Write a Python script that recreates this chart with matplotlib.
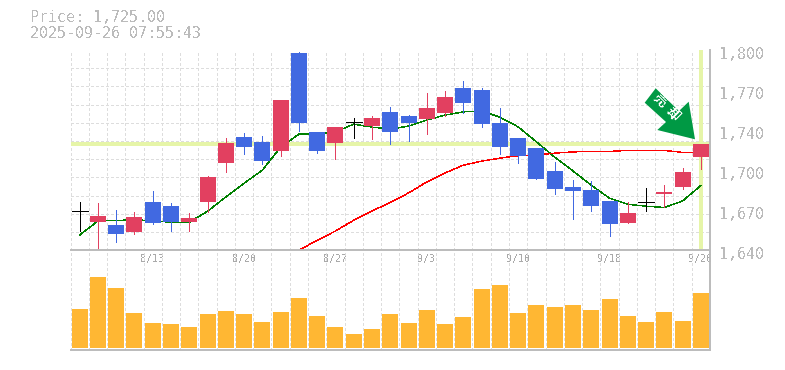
#!/usr/bin/env python3
"""Daily candles with two moving averages, current price marker and volume."""

import matplotlib
matplotlib.use('Agg')
import matplotlib.pyplot as plt
import numpy as np
from matplotlib.patches import Polygon, Rectangle
from matplotlib.transforms import ScaledTranslation

# ---------------------------------------------------------------------
# DATA
# ---------------------------------------------------------------------
opens = [1671.2, 1662.4, 1660.0, 1654.4, 1678.4, 1675.2, 1662.4, 1678.4, 1709.6, 1730.4,
         1726.4, 1719.2, 1797.6, 1734.4, 1725.6, 1742.4, 1739.2, 1750.4, 1747.2, 1744.8,
         1749.6, 1769.6, 1768.0, 1741.6, 1729.6, 1721.6, 1703.2, 1690.4, 1688.0, 1679.2,
         1661.6, 1678.4, 1684.8, 1690.4, 1714.4]
closes = [1671.2, 1667.2, 1652.8, 1666.4, 1661.6, 1662.4, 1665.6, 1698.4, 1725.6, 1722.4,
          1711.2, 1760.0, 1741.6, 1719.2, 1738.4, 1742.4, 1745.6, 1734.4, 1741.6, 1753.6,
          1762.4, 1757.6, 1740.8, 1722.4, 1715.2, 1696.8, 1688.8, 1687.2, 1675.2, 1660.8,
          1669.6, 1678.4, 1686.4, 1702.4, 1725.0]
highs = [1678.4, 1677.6, 1672.0, 1670.4, 1687.2, 1677.6, 1669.6, 1699.2, 1729.6, 1733.6,
         1731.2, 1760.0, 1798.4, 1734.4, 1738.4, 1745.6, 1747.2, 1754.4, 1748.0, 1765.6,
         1767.2, 1775.2, 1769.6, 1753.6, 1729.6, 1721.6, 1710.4, 1696.0, 1695.2, 1679.2,
         1678.4, 1689.6, 1692.0, 1705.6, 1725.0]
lows = [1655.2, 1640.0, 1646.4, 1652.8, 1660.8, 1655.2, 1655.2, 1670.4, 1702.4, 1716.8,
        1708.8, 1715.2, 1735.2, 1717.6, 1712.8, 1729.6, 1728.8, 1724.8, 1727.2, 1732.8,
        1747.2, 1749.6, 1738.4, 1716.8, 1709.6, 1696.8, 1684.8, 1664.8, 1671.2, 1651.2,
        1661.6, 1671.2, 1674.4, 1688.8, 1704.8]
volumes = [39, 71, 60, 35, 25, 24, 21, 34, 37, 34, 26, 36, 50, 32, 21, 14, 19, 34,
           25, 38, 24, 31, 59, 63, 35, 43, 41, 43, 38, 49, 32, 26, 36, 27, 55]
ma_short = [1652.2, 1663.4, 1663.8, 1664.4, 1663.6, 1662.4, 1662.4, 1671.2, 1682.6, 1693.6,
            1704.0, 1722.4, 1732.8, 1732.8, 1734.6, 1740.8, 1738.4, 1736.8, 1739.2, 1744.0,
            1748.0, 1750.6, 1751.2, 1746.4, 1738.6, 1726.6, 1714.4, 1703.4, 1692.0, 1681.6,
            1676.8, 1675.2, 1674.2, 1679.4, 1691.8]
ma_long_start = 12
ma_long = [1640.0, 1648.0, 1655.4, 1664.0, 1671.4, 1678.2, 1685.8, 1694.6, 1701.8, 1708.0,
           1711.2, 1713.6, 1715.6, 1716.2, 1717.6, 1718.6, 1719.0, 1719.0, 1719.8, 1719.8,
           1719.8, 1718.2, 1718.2]

PRICE = 1725.0
STAMP = '2025-09-26 07:55:43'
date_pos = [4, 9, 14, 19, 24, 29, 34]
date_labels = ['8/13', '8/20', '8/27', '9/3', '9/10', '9/18', '9/26']
price_ticks = [1640, 1672, 1704, 1736, 1768, 1800]
price_labels = ['1,640', '1,670', '1,700', '1,740', '1,770', '1,800']

# ---------------------------------------------------------------------
# STYLE
# ---------------------------------------------------------------------
W, H = 785, 370
UP = '#E24060'
DOWN = '#4169E1'
TEXT = '#BBBBBB'
GRID = '#DDDDDD'
AXIS = '#BBBBBB'
MARK = '#E6F5A8'
ARROW = '#009944'
MONO = 'DejaVu Sans Mono'
THIN = 0.5
CURVE = 0.3

plt.rcParams['text.antialiased'] = False
plt.rcParams['font.family'] = [MONO, 'DejaVu Sans']


def px_axes(fig, left, top, right, bottom):
    return fig.add_axes([left / W, 1 - bottom / H, (right - left) / W, (bottom - top) / H])


def px_fig(x, y):
    return x / W, 1 - y / H


def style_axes(ax):
    ax.set_xlim(-0.5, len(opens) - 0.5)
    ax.set_xticks(np.arange(len(opens) + 1) - 0.5, minor=True)
    ax.grid(True, which='minor', color=GRID, linestyle=(0, (4.3, 2.9)), linewidth=THIN, antialiased=False)
    ax.set_axisbelow(True)
    ax.tick_params(which='both', length=0)
    for side in ('top', 'left'):
        ax.spines[side].set_visible(False)
    for side in ('bottom', 'right'):
        ax.spines[side].set_color(AXIS)
        ax.spines[side].set_linewidth(1.4)
        ax.spines[side].set_zorder(6)


def draw_candles(ax):
    width = 0.875
    for i, (o, c, hi, lo) in enumerate(zip(opens, closes, highs, lows)):
        if o == c:
            color = 'black'
        elif c > o:
            color = UP
        else:
            color = DOWN
        ax.vlines(i, lo, hi, color=color, linewidth=THIN, zorder=4, antialiased=False)
        if o == c:
            ax.hlines(o, i - width / 2, i + width / 2, color=color, linewidth=THIN, zorder=4, antialiased=False)
        else:
            ax.add_patch(Rectangle((i - width / 2, min(o, c)), width, abs(c - o), facecolor=color,
                                   edgecolor='none', linewidth=0, zorder=4, antialiased=False))


def draw_arrow(fig, ax):
    shape = [(655.7, 88.3), (644.7, 102.7), (666.0, 122.0), (657.3, 130.0),
             (695.0, 139.3), (688.7, 101.7), (679.0, 111.0)]
    ax.add_patch(Polygon([px_fig(x, y) for x, y in shape], closed=True, facecolor=ARROW, edgecolor='none',
                         transform=fig.transFigure, zorder=7, clip_on=False))
    for ch, (x, y) in zip('売却', [(660.3, 100.5), (672.5, 114.0)]):
        fx, fy = px_fig(x, y)
        fig.text(fx, fy, ch, color='white', fontsize=9.5, fontweight='bold', rotation=-45,
                 rotation_mode='anchor', ha='center', va='center', family=['Noto Sans CJK JP', 'DejaVu Sans'],
                 zorder=8)


def main() -> None:
    fig = plt.figure(figsize=(W / 100, H / 100), dpi=100, facecolor='white')
    ax = px_axes(fig, 70.5, 50, 710, 250.3)
    vol = px_axes(fig, 70.5, 250.3, 710, 350)
    vol.patch.set_alpha(0)
    ax.set_zorder(1)
    vol.set_zorder(2)

    # price panel
    style_axes(ax)
    ax.set_ylim(1640, 1800)
    ax.set_yticks(np.linspace(1640, 1800, 12), minor=True)
    ax.set_yticks(price_ticks)
    ax.set_yticklabels(price_labels)
    ax.yaxis.tick_right()
    ax.tick_params(axis='y', which='major', labelsize=10.8, labelcolor=TEXT, pad=6.5)
    shift = ScaledTranslation(0, -3 / 100, fig.dpi_scale_trans)
    for lab in ax.get_yticklabels():
        lab.set_transform(lab.get_transform() + shift)
    ax.set_xticks(date_pos)
    ax.set_xticklabels(date_labels)
    ax.tick_params(axis='x', which='major', labelsize=7.2, labelcolor='#AAAAAA', pad=3)

    ax.axhline(PRICE, color=MARK, linewidth=2.6, zorder=2, antialiased=False)
    ax.axvline(len(opens) - 1, color=MARK, linewidth=2.6, zorder=2, antialiased=False)
    ax.plot(range(len(ma_short)), ma_short, color='#008000', linewidth=CURVE, zorder=3, antialiased=False)
    ax.plot(range(ma_long_start, ma_long_start + len(ma_long)), ma_long, color='#FF0000', linewidth=CURVE,
            zorder=3, antialiased=False)
    draw_candles(ax)
    draw_arrow(fig, vol)

    # volume panel
    style_axes(vol)
    vol.set_ylim(-2, 97.7)
    vol.set_yticks([])
    vol.set_xticks([])
    vol.bar(range(len(volumes)), volumes, width=0.875, color='#FFB733', zorder=3, antialiased=False)

    fx, fy = px_fig(30, 18)
    fig.text(fx, fy, f'Price: {PRICE:,.2f}', color=TEXT, fontsize=10.8, va='center', ha='left')
    fx, fy = px_fig(30, 33)
    fig.text(fx, fy, STAMP, color=TEXT, fontsize=10.8, va='center', ha='left')

    fig.savefig('out.png', dpi=100)
    plt.close(fig)


if __name__ == '__main__':
    main()
